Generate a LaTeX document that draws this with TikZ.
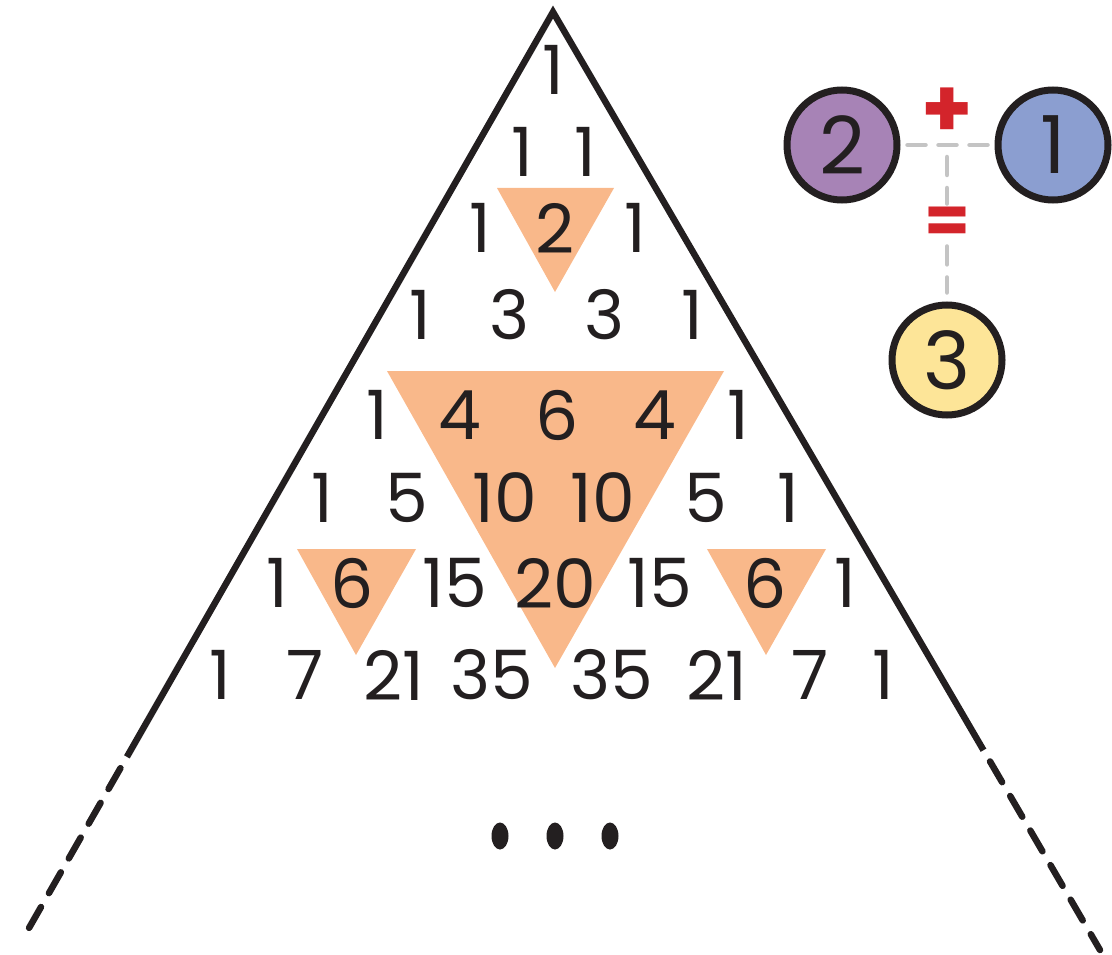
\documentclass[tikz,border=0pt]{standalone}
\usepackage{fontspec}
\setmainfont{Poppins}
\usetikzlibrary{calc,shapes.geometric}
\definecolor{ink}{HTML}{231F20}
\definecolor{tri}{HTML}{F9B88A}
\definecolor{purp}{HTML}{A783B6}
\definecolor{blu}{HTML}{8B9ED0}
\definecolor{yel}{HTML}{FDE598}
\definecolor{gry}{HTML}{C4C4C4}
\definecolor{rd}{HTML}{D3242B}
\begin{document}
\begin{tikzpicture}[x=1pt,y=-1pt,
  num/.style={font=\fontsize{68}{68}\selectfont, text=ink, inner sep=0pt, anchor=center},
  circ/.style={circle, draw=ink, line width=7pt, minimum size=110pt, inner sep=0pt, font=\fontsize{80}{80}\selectfont, text=ink},
  gdash/.style={draw=gry, line width=4.5pt, line cap=round, dash pattern=on 18pt off 13pt},
  side/.style={draw=ink, line width=6.5pt},
  sidedash/.style={draw=ink, line width=6.5pt, line cap=round, dash pattern=on 24pt off 16pt},
  op/.style={text=rd, inner sep=0pt},
  dot/.style={ellipse, fill=ink, minimum width=17pt, minimum height=27pt, inner sep=0pt}]
\useasboundingbox (0,0) rectangle (1112,955);
% orange triangles
\fill[tri] (497,188) -- (614,188) -- (555,292) -- cycle;
\fill[tri] (387,371) -- (724,371) -- (555,668) -- cycle;
\fill[tri] (297,549) -- (416,549) -- (356,655) -- cycle;
\fill[tri] (707,549) -- (826,549) -- (766,655) -- cycle;
% big triangle sides
\coordinate (apex) at (553,12);
\coordinate (lend) at (25,935);
\coordinate (rend) at (1100,950);
\coordinate (lb) at ($(lend)!0.193!(apex)$);
\coordinate (rb) at ($(rend)!0.213!(apex)$);
\coordinate (lds) at ($(lb)!13pt!(lend)$);
\coordinate (rds) at ($(rb)!13pt!(rend)$);
\draw[side, line join=miter] (lb) -- (apex) -- (rb);
\draw[sidedash] (lds) -- (lend);
\draw[sidedash] (rds) -- (rend);
% numbers
\node[num] (r0a) at (553,70) {1};
\node[num] (r1a) at (522,152) {1};
\node[num] (r1b) at (585,152) {1};
\node[num] (r2a) at (480,228) {1};
\node[num] (r2b) at (555,228) {2};
\node[num] (r2c) at (635,228) {1};
\node[num] (r3a) at (420,315) {1};
\node[num] (r3b) at (510,315) {3};
\node[num] (r3c) at (605,315) {3};
\node[num] (r3d) at (692,315) {1};
\node[num] (r4a) at (377,415) {1};
\node[num] (r4b) at (460,415) {4};
\node[num] (r4c) at (557,415) {6};
\node[num] (r4d) at (655,415) {4};
\node[num] (r4e) at (738,415) {1};
\node[num] (r5a) at (322,498) {1};
\node[num] (r5b) at (407,498) {5};
\node[num] (r5c) at (505,498) {10};
\node[num] (r5d) at (603,498) {10};
\node[num] (r5e) at (706,498) {5};
\node[num] (r5f) at (788,498) {1};
\node[num] (r6a) at (277,583) {1};
\node[num] (r6b) at (352,583) {6};
\node[num] (r6c) at (455,583) {15};
\node[num] (r6d) at (555,583) {20};
\node[num] (r6e) at (660,583) {15};
\node[num] (r6f) at (765,583) {6};
\node[num] (r6g) at (845,583) {1};
\node[num] (r7a) at (220,675) {1};
\node[num] (r7b) at (305,675) {7};
\node[num] (r7c) at (394,675) {21};
\node[num] (r7d) at (492,675) {35};
\node[num] (r7e) at (612,675) {35};
\node[num] (r7f) at (717,675) {21};
\node[num] (r7g) at (810,675) {7};
\node[num] (r7h) at (883,675) {1};
% dots
\node[dot] (d1) at (500,836) {};
\node[dot] (d2) at (555,836) {};
\node[dot] (d3) at (610,836) {};
% circles
\node[circ, fill=purp] (c2) at (842,145) {2};
\node[circ, fill=blu] (c1) at (1053,145) {1};
\node[circ, fill=yel] (c3) at (947,360) {3};
\coordinate (j) at (947,157);
\node[op, font=\fontsize{82}{82}\selectfont\bfseries] (plus) at (947,113) {+};
\node[op, font=\fontsize{66}{66}\selectfont\bfseries, minimum height=34pt] (eq) at (947,225) {=};
\draw[gdash, shorten <=7pt, shorten >=5pt] (c2.east) -- (c1.west);
\draw[gdash, shorten >=3pt] (j) -- (eq.north);
\draw[gdash, shorten <=3pt, shorten >=9pt] (eq.south) -- (c3.north);
\end{tikzpicture}
\end{document}
